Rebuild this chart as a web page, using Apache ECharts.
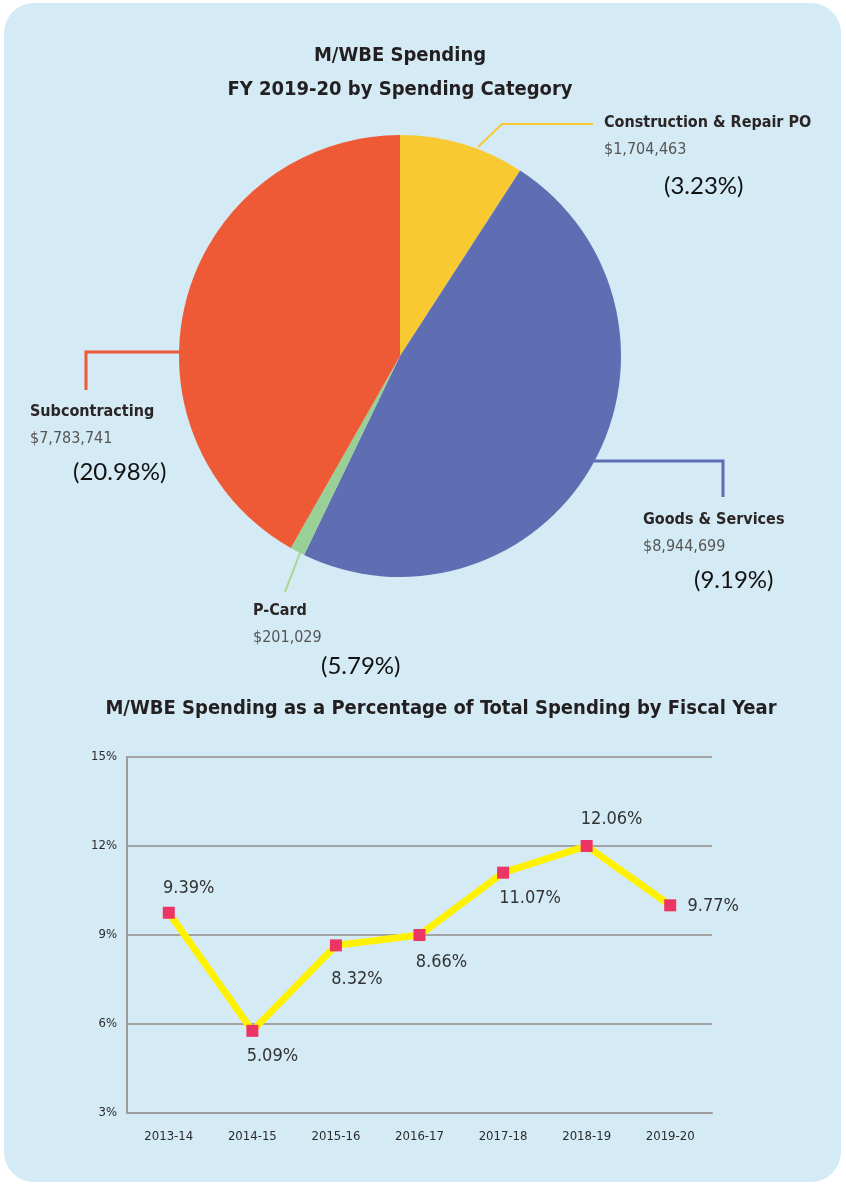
<!DOCTYPE html>
<html>
<head>
<meta charset="utf-8">
<script src="https://cdn.jsdelivr.net/npm/echarts@6/dist/echarts.min.js"></script>
<style>
  html, body { margin: 0; padding: 0; background: #ffffff; }
  #panel {
    position: absolute; left: 4px; top: 3px; width: 837px; height: 1179px;
    background: #d4eaf4; border-radius: 30px;
  }
  #chart { position: absolute; left: 0; top: 0; width: 846px; height: 1184px; }
</style>
</head>
<body>
<div id="panel"></div>
<div id="chart"></div>
<script>
// pie: spending by category, FY 2019-20
const categories = ['Construction & Repair PO', 'Goods & Services', 'P-Card', 'Subcontracting'];
const amounts = [1704463, 8944699, 201029, 7783741];
const percentTexts = ['(3.23%)', '(9.19%)', '(5.79%)', '(20.98%)'];

// line: M/WBE share by fiscal year
const fiscalYears = ['2013-14', '2014-15', '2015-16', '2016-17', '2017-18', '2018-19', '2019-20'];
const plottedShares = [9.75, 5.77, 8.65, 9.0, 11.1, 12.0, 10.0];
const shareTexts = ['9.39%', '5.09%', '8.32%', '8.66%', '11.07%', '12.06%', '9.77%'];
const yTicks = [3, 6, 9, 12, 15];

const COND = "'DejaVu Sans Condensed', 'DejaVu Sans', sans-serif";
const sliceColors = ['#f9c932', '#5f6db3', '#98d095', '#ee5a36'];
const leaderColors = ['#f9c932', '#5f6db3', '#a9d58f', '#ee5a36'];

// label boxes and leader lines for the pie (page pixels)
const pieLabelPos = [[604, 109], [643, 506], [253, 597], [30, 398]];
const pctPad = [60, 51, 68, 43];
const pctLine = [47, 41, 31, 41];
const leaders = [
  [[478, 147], [502, 124], [593, 124]],
  [[593, 461], [723, 461], [723, 497]],
  [[300, 553], [292.5, 572.5], [285, 592]],
  [[180, 352], [86, 352], [86, 390]]
];
// label offsets for the line points
const shareOffsets = [[20, -24], [20, 26], [21, 34], [22, 27], [27, 26], [25, -27], [43, 1]];

let myChart = echarts.init(document.getElementById('chart'), null, {renderer: 'canvas'});

let rich = {
  name: {fontFamily: COND, fontWeight: 'bold', fontSize: 16, color: '#2b2526', lineHeight: 27},
  val: {fontFamily: COND, fontSize: 16, color: '#555555', lineHeight: 27}
};
categories.forEach((c, i) => {
  rich['pct' + i] = {
    fontFamily: 'Lato, sans-serif', fontSize: 24, color: '#111111',
    lineHeight: pctLine[i], padding: [0, 0, 0, pctPad[i]]
  };
});

let pieData = categories.map((c, i) => ({
  name: c,
  value: amounts[i],
  itemStyle: {color: sliceColors[i]},
  labelLine: {lineStyle: {color: leaderColors[i], width: i % 2 ? 3 : 2}}
}));

let lineData = plottedShares.map((v, i) => ({
  value: v,
  label: {offset: shareOffsets[i]}
}));

let option = {
  animation: false,
  title: [
    {
      text: 'M/WBE Spending\nFY 2019-20 by Spending Category',
      left: 395, top: 34, textAlign: 'center',
      textStyle: {fontFamily: COND, fontWeight: 'bold', fontSize: 20, color: '#231f20', lineHeight: 34}
    },
    {
      text: 'M/WBE Spending as a Percentage of Total Spending by Fiscal Year',
      left: 436, top: 694, textAlign: 'center',
      textStyle: {fontFamily: COND, fontWeight: 'bold', fontSize: 20, color: '#231f20'}
    }
  ],
  grid: {left: 127, right: 134, top: 757, bottom: 71},
  xAxis: {
    type: 'category',
    data: fiscalYears,
    boundaryGap: true,
    axisLine: {lineStyle: {color: '#9c9c9c', width: 2}},
    axisTick: {inside: true, length: 21, alignWithLabel: true, lineStyle: {color: '#9c9c9c', width: 2}},
    axisLabel: {fontFamily: COND, fontSize: 13, color: '#2b2b2b', margin: 17}
  },
  yAxis: {
    type: 'value',
    min: yTicks[0], max: yTicks[yTicks.length - 1], interval: 3,
    axisLine: {show: true, lineStyle: {color: '#9c9c9c', width: 2}},
    axisTick: {show: false},
    splitLine: {lineStyle: {color: '#a3a3a3', width: 2}},
    axisLabel: {fontFamily: COND, fontSize: 13, color: '#2b2b2b', margin: 10, formatter: '{value}%'}
  },
  series: [
    {
      type: 'pie',
      center: [400, 356],
      radius: 221,
      startAngle: 90,
      clockwise: true,
      avoidLabelOverlap: false,
      silent: true,
      data: pieData,
      label: {
        show: true,
        position: 'outside',
        formatter: p => '{name|' + p.name + '}\n{val|$' + p.value.toLocaleString('en-US') + '}\n{pct' + p.dataIndex + '|' + percentTexts[p.dataIndex] + '}',
        rich: rich
      },
      labelLine: {show: true, smooth: false},
      labelLayout: p => ({
        x: pieLabelPos[p.dataIndex][0],
        y: pieLabelPos[p.dataIndex][1],
        align: 'left',
        verticalAlign: 'top',
        labelLinePoints: leaders[p.dataIndex]
      })
    },
    {
      type: 'line',
      data: lineData,
      lineStyle: {color: '#fff200', width: 7},
      symbol: 'rect',
      symbolSize: 12,
      itemStyle: {color: '#ec3565'},
      z: 3,
      label: {
        show: true,
        position: 'inside',
        fontFamily: COND, fontSize: 18, color: '#333333',
        formatter: p => shareTexts[p.dataIndex]
      }
    }
  ]
};

myChart.setOption(option, true);
</script>
</body>
</html>
